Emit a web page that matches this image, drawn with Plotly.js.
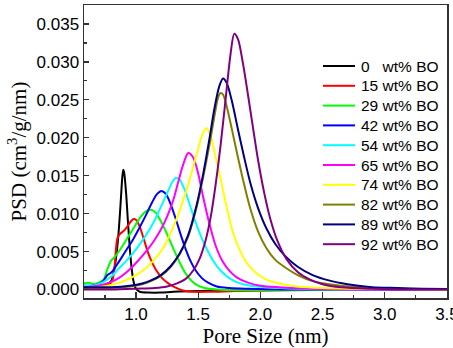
<!DOCTYPE html>
<html>
<head>
<meta charset="utf-8">
<script src="https://cdn.plot.ly/plotly-3.0.1.min.js"></script>
<style>html,body{margin:0;padding:0;background:#fff;overflow:hidden;}#chart{width:453px;height:348px;}</style>
</head>
<body>
<div id="chart"></div>
<script>
// ---- data ----
var seriesNames = ["0\u00a0\u00a0\u00a0wt% BO", "15 wt% BO", "29 wt% BO", "42 wt% BO", "54 wt% BO",
                   "65 wt% BO", "74 wt% BO", "82 wt% BO", "89 wt% BO", "92 wt% BO"];
var seriesColors = ["#000000", "#ff0000", "#00ff00", "#0000ff", "#00ffff",
                    "#ff00ff", "#ffff00", "#808000", "#000080", "#800080"];

var x0 = [0.58,0.65,0.72,0.77,0.80,0.82,0.84,0.86,0.875,0.89,0.898,0.905,0.92,0.935,0.95,0.965,0.98,1.0,1.03,1.1,1.2,1.3,1.5,2.0,2.5,3.0,3.5];
var y0 = [0.0004,0.0004,0.0005,0.0007,0.0011,0.0022,0.0042,0.0075,0.0110,0.0148,0.0158,0.0154,0.0128,0.0090,0.0055,0.0028,0.0011,0.0001,-0.0003,-0.0004,-0.0004,-0.0003,-0.0002,-0.0001,0,0,0];

var x15 = [0.58,0.65,0.72,0.77,0.80,0.81,0.825,0.835,0.85,0.87,0.90,0.93,0.96,0.98,1.0,1.03,1.06,1.09,1.12,1.16,1.21,1.26,1.31,1.37,1.45,1.6,1.8,2.2,3.0,3.5];
var y15 = [0.0004,0.0004,0.0005,0.0006,0.0009,0.0012,0.0025,0.0045,0.0067,0.0073,0.0077,0.0083,0.0090,0.0093,0.0092,0.0083,0.0068,0.0052,0.0039,0.0026,0.0015,0.0008,0.0003,-0.0001,-0.0003,-0.0003,-0.0002,-0.0001,0,0];

var x29 = [0.58,0.62,0.66,0.70,0.74,0.77,0.80,0.83,0.87,0.92,0.97,1.03,1.08,1.12,1.16,1.20,1.25,1.30,1.35,1.40,1.45,1.50,1.55,1.65,1.8,2.2,3.0,3.5];
var y29 = [0.0008,0.0009,0.0007,0.0009,0.0013,0.0027,0.0038,0.0043,0.0052,0.0065,0.0078,0.0094,0.0103,0.0105,0.0101,0.0090,0.0073,0.0054,0.0036,0.0021,0.0011,0.0005,0.0002,0,-0.0001,-0.0001,0,0];

var x42 = [0.58,0.65,0.70,0.74,0.77,0.79,0.81,0.84,0.88,0.93,0.98,1.03,1.08,1.13,1.17,1.205,1.24,1.28,1.32,1.36,1.40,1.44,1.48,1.53,1.58,1.65,1.75,1.9,2.2,3.0,3.5];
var y42 = [0.0005,0.0005,0.0007,0.0012,0.0019,0.0021,0.0024,0.0031,0.0041,0.0054,0.0067,0.0082,0.0098,0.0115,0.0126,0.0130,0.0126,0.0112,0.0093,0.0072,0.0053,0.0037,0.0025,0.0015,0.0009,0.0004,0.0002,0.0001,0,0,0];

var x54 = [0.58,0.65,0.70,0.75,0.80,0.87,0.94,1.0,1.07,1.14,1.20,1.25,1.29,1.32,1.35,1.39,1.43,1.47,1.52,1.57,1.62,1.68,1.75,1.82,1.92,2.05,2.3,2.7,3.5];
var y54 = [0.0005,0.0005,0.0007,0.0011,0.0017,0.0029,0.0041,0.0053,0.0069,0.0088,0.0109,0.0127,0.0141,0.0147,0.0145,0.0132,0.0113,0.0093,0.0071,0.0053,0.0038,0.0025,0.0015,0.0009,0.0005,0.0003,0.0001,0,0];

var x65 = [0.58,0.7,0.8,0.87,0.94,1.0,1.07,1.14,1.20,1.25,1.30,1.34,1.38,1.42,1.46,1.50,1.54,1.59,1.64,1.69,1.75,1.81,1.9,2.0,2.15,2.4,2.8,3.5];
var y65 = [0.0003,0.0005,0.0010,0.0016,0.0025,0.0035,0.0048,0.0063,0.0079,0.0096,0.0118,0.0142,0.0165,0.0180,0.0174,0.0153,0.0122,0.0087,0.0058,0.0039,0.0025,0.0016,0.0009,0.0005,0.0003,0.0001,0,0];

var x74 = [0.58,0.7,0.8,0.9,1.0,1.08,1.15,1.22,1.28,1.34,1.40,1.45,1.50,1.535,1.565,1.60,1.64,1.68,1.73,1.78,1.84,1.90,1.97,2.05,2.15,2.3,2.5,2.8,3.5];
var y74 = [0.0002,0.0003,0.0006,0.0011,0.0019,0.0028,0.0040,0.0055,0.0075,0.0099,0.0128,0.0156,0.0186,0.0205,0.0213,0.0202,0.0175,0.0146,0.0108,0.0075,0.0050,0.0033,0.0021,0.0013,0.0008,0.0004,0.0002,0.0001,0];

var x82 = [0.58,0.8,0.95,1.05,1.12,1.2,1.28,1.35,1.42,1.49,1.54,1.59,1.63,1.66,1.68,1.70,1.73,1.77,1.82,1.87,1.92,1.98,2.05,2.12,2.2,2.3,2.42,2.6,2.9,3.2,3.5];
var y82 = [0.0002,0.0002,0.0004,0.0007,0.0011,0.0018,0.0030,0.0046,0.0070,0.0110,0.0148,0.0190,0.0228,0.0253,0.0259,0.0257,0.0241,0.0212,0.0174,0.0138,0.0106,0.0077,0.0054,0.0039,0.0029,0.0019,0.0011,0.0006,0.0002,0.0001,0];

var x89 = [0.58,0.8,0.95,1.05,1.12,1.2,1.28,1.35,1.42,1.49,1.54,1.59,1.63,1.67,1.70,1.73,1.77,1.82,1.87,1.92,1.98,2.05,2.12,2.2,2.3,2.42,2.55,2.7,2.9,3.1,3.3,3.5];
var y89 = [0.0003,0.0003,0.0005,0.0008,0.0012,0.0019,0.0031,0.0047,0.0072,0.0113,0.0152,0.0198,0.0238,0.0268,0.0278,0.0272,0.0249,0.0211,0.0174,0.0140,0.0108,0.0080,0.0060,0.0044,0.0030,0.0019,0.0012,0.0007,0.0003,0.0002,0.0001,0.00005];

var x92 = [0.58,0.8,1.0,1.15,1.25,1.33,1.40,1.46,1.51,1.56,1.60,1.64,1.68,1.72,1.76,1.79,1.82,1.86,1.90,1.94,1.98,2.03,2.08,2.14,2.21,2.3,2.4,2.5,2.65,2.9,3.2,3.5];
var y92 = [0,0,0.0001,0.0002,0.0004,0.0008,0.0014,0.0025,0.0040,0.0065,0.0095,0.0138,0.0190,0.0250,0.0310,0.0337,0.0330,0.0298,0.0257,0.0214,0.0172,0.0128,0.0093,0.0063,0.0040,0.0023,0.0013,0.0007,0.0003,0.0001,0,0];

var xTickVals = [1.0, 1.5, 2.0, 2.5, 3.0, 3.5];
var yTickVals = [0.000, 0.005, 0.010, 0.015, 0.020, 0.025, 0.030, 0.035];

// ---- build traces ----
var xs = [x0, x15, x29, x42, x54, x65, x74, x82, x89, x92];
var ys = [y0, y15, y29, y42, y54, y65, y74, y82, y89, y92];
var traces = xs.map(function (xv, i) {
  return {
    type: "scatter", mode: "lines", x: xv, y: ys[i], name: seriesNames[i],
    line: {color: seriesColors[i], width: 2, shape: "spline", smoothing: 0.8},
    showlegend: false, hoverinfo: "skip"
  };
});

// ---- plot geometry ----
var W = 453, H = 348, mL = 84, mR = 6, mT = 5, mB = 50;
var pw = W - mL - mR, ph = H - mT - mB;
function px2x(p) { return (p - mL) / pw; }
function py2y(p) { return (H - mB - p) / ph; }

// manual legend (lines + text) placed in paper coordinates
var shapes = [], annotations = [];
for (var i = 0; i < seriesNames.length; i++) {
  var cy = 66 + i * 19.8;
  shapes.push({type: "line", xref: "paper", yref: "paper",
    x0: px2x(323), x1: px2x(355), y0: py2y(cy), y1: py2y(cy),
    line: {color: seriesColors[i], width: 2}});
  annotations.push({xref: "paper", yref: "paper", x: px2x(359), y: py2y(cy),
    xanchor: "left", yanchor: "middle", showarrow: false, text: seriesNames[i],
    font: {family: "Liberation Sans, Arial, sans-serif", size: 15.5, color: "#000"}});
}

var tickFont = {family: "Liberation Sans, Arial, sans-serif", size: 17, color: "#000"};
var titleFont = {family: "Liberation Serif, Times New Roman, serif", size: 21, color: "#000"};

var layout = {
  width: W, height: H,
  margin: {l: mL, r: mR, t: mT, b: mB, pad: 0},
  paper_bgcolor: "#fff", plot_bgcolor: "#fff",
  showlegend: false,
  xaxis: {
    range: [0.582, 3.5005], tickvals: xTickVals, tickformat: ".1f",
    ticklabeloverflow: "allow",
    ticks: "inside", ticklen: 6, tickwidth: 1.3, tickcolor: "#333",
    minor: {dtick: 0.25, tick0: 0.75, ticks: "inside", ticklen: 3, tickwidth: 1.2, tickcolor: "#333"},
    showline: true, linecolor: "#333", linewidth: 1.5, mirror: true,
    showgrid: false, zeroline: false, tickfont: tickFont,
    title: {text: "Pore Size (nm)", font: titleFont, standoff: 6}
  },
  yaxis: {
    range: [-0.00112, 0.0375], tickvals: yTickVals, tickformat: ".3f",
    ticks: "inside", ticklen: 5, tickwidth: 1.3, tickcolor: "#333",
    minor: {dtick: 0.0025, tick0: 0, ticks: "inside", ticklen: 3, tickwidth: 1.2, tickcolor: "#333"},
    showline: true, linecolor: "#333", linewidth: 1.5, mirror: true,
    showgrid: false, zeroline: false, tickfont: tickFont,
    title: {text: "PSD (cm<sup>3</sup>/g/nm)", font: titleFont, standoff: 4}
  },
  shapes: shapes,
  annotations: annotations
};

Plotly.newPlot("chart", traces, layout, {staticPlot: true, displayModeBar: false});
</script>
</body>
</html>
